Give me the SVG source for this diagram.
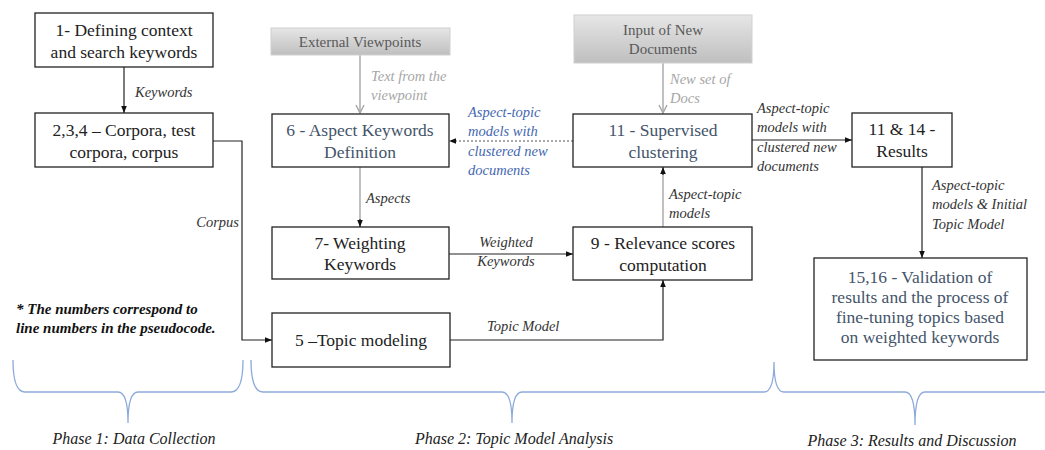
<svg xmlns="http://www.w3.org/2000/svg" width="1045" height="450" viewBox="0 0 1045 450" font-family="Liberation Serif, Tinos, Times New Roman, DejaVu Serif, serif">
<style>
.box{fill:#fff;stroke:#222;stroke-width:1.3}
.gbox{fill:url(#gg);stroke:#d0d0d0;stroke-width:1}
.t{font-size:17.5px;fill:#222;text-anchor:middle}
.ts{fill:#44546a}
.tg{font-size:15px;fill:#595959;text-anchor:middle}
.l{font-size:14.5px;font-style:italic;fill:#333}
.lg{fill:#a6a6a6}
.lb{fill:#4468b0}
.c{fill:none;stroke:#222;stroke-width:1.2}
.cg{fill:none;stroke:#a6a6a6;stroke-width:1.4}
.br{fill:none;stroke:#8eaadb;stroke-width:1.3}
.ph{font-size:16px;font-style:italic;fill:#222;text-anchor:middle}
.note{font-size:15px;font-style:italic;font-weight:bold;fill:#111}
</style>
<defs>
<linearGradient id="gg" x1="0" y1="0" x2="0" y2="1"><stop offset="0" stop-color="#e6e6e6"/><stop offset="1" stop-color="#bfbfbf"/></linearGradient>
<marker id="ah" viewBox="0 0 10 10" refX="10" refY="5" markerWidth="7" markerHeight="7" orient="auto" markerUnits="userSpaceOnUse"><path d="M0,1 L10,5 L0,9 Z" fill="#111"/></marker>
<marker id="ag" viewBox="0 0 10 10" refX="9" refY="5" markerWidth="10" markerHeight="10" orient="auto" markerUnits="userSpaceOnUse"><path d="M1,1 L9,5 L1,9" fill="none" stroke="#a6a6a6" stroke-width="1.4"/></marker>
</defs>

<g id="connectors">
<path class="c" d="M124,67 V113" marker-end="url(#ah)"/>
<text class="l" x="135" y="97">Keywords</text>
<path class="c" d="M213,141 H242 V340 H272" marker-end="url(#ah)"/>
<text class="l" x="239" y="227" text-anchor="end">Corpus</text>
<path class="cg" d="M360,55 V113" marker-end="url(#ag)"/>
<text class="l lg" x="371" y="81">Text from the</text>
<text class="l lg" x="371" y="100">viewpoint</text>
<path class="cg" d="M663,63 V113" marker-end="url(#ag)"/>
<text class="l lg" x="670" y="84">New set of</text>
<text class="l lg" x="670" y="103">Docs</text>
<path d="M573,141 H449" fill="none" stroke="#555" stroke-width="1" stroke-dasharray="2,2" marker-end="url(#ah)"/>
<text class="l lb" x="468" y="117">Aspect-topic</text>
<text class="l lb" x="468" y="136">models with</text>
<text class="l lb" x="468" y="156">clustered new</text>
<text class="l lb" x="468" y="175">documents</text>
<path class="c" d="M752,140 H852" marker-end="url(#ah)"/>
<text class="l" x="757" y="113">Aspect-topic</text>
<text class="l" x="757" y="132">models with</text>
<text class="l" x="757" y="152">clustered new</text>
<text class="l" x="757" y="171">documents</text>
<path class="c" d="M922,167 V258" marker-end="url(#ah)"/>
<text class="l" x="932" y="190">Aspect-topic</text>
<text class="l" x="932" y="209">models &amp; Initial</text>
<text class="l" x="932" y="229">Topic Model</text>
<path class="cg" d="M360,167 V220"/>
<path class="c" d="M360,219 V227" marker-end="url(#ah)"/>
<text class="l" x="366" y="203">Aspects</text>
<path class="c" d="M449,254 H573" marker-end="url(#ah)"/>
<text class="l" x="506" y="247" text-anchor="middle">Weighted</text>
<text class="l" x="506" y="266" text-anchor="middle">Keywords</text>
<path class="c" d="M450,340 H663 V280" marker-end="url(#ah)"/>
<text class="l" x="487" y="331">Topic Model</text>
<path class="cg" d="M663,227 V174"/>
<path class="c" d="M663,175 V167" marker-end="url(#ah)"/>
<text class="l" x="669" y="199">Aspect-topic</text>
<text class="l" x="669" y="218">models</text>
</g>

<g id="n1"><rect class="box" x="35" y="13" width="178" height="54"/>
<text class="t" x="124" y="36">1- Defining context</text><text class="t" x="124" y="58">and search keywords</text></g>
<g id="n2"><rect class="box" x="35" y="113" width="178" height="54"/>
<text class="t" x="124" y="136">2,3,4 – Corpora, test</text><text class="t" x="124" y="158">corpora, corpus</text></g>
<g id="ext"><rect class="gbox" x="271" y="28" width="179" height="27"/>
<text class="tg" x="360" y="47">External Viewpoints</text></g>
<g id="inp"><rect class="gbox" x="574" y="15" width="178" height="48"/>
<text class="tg" x="663" y="35">Input of New</text><text class="tg" x="663" y="54">Documents</text></g>
<g id="n6"><rect class="box" x="272" y="114" width="177" height="53"/>
<text class="t ts" x="360" y="136">6 - Aspect Keywords</text><text class="t ts" x="360" y="158">Definition</text></g>
<g id="n11"><rect class="box" x="573" y="114" width="179" height="53"/>
<text class="t ts" x="663" y="136">11 - Supervised</text><text class="t ts" x="663" y="158">clustering</text></g>
<g id="n1114"><rect class="box" x="852" y="113" width="100" height="54"/>
<text class="t" x="902" y="135">11 &amp; 14 -</text><text class="t" x="902" y="157">Results</text></g>
<g id="n7"><rect class="box" x="272" y="227" width="177" height="52"/>
<text class="t" x="360" y="249">7- Weighting</text><text class="t" x="360" y="270">Keywords</text></g>
<g id="n9"><rect class="box" x="573" y="227" width="179" height="53"/>
<text class="t" x="663" y="249">9 - Relevance scores</text><text class="t" x="663" y="271">computation</text></g>
<g id="n5"><rect class="box" x="272" y="313" width="178" height="54"/>
<text class="t" x="361" y="346">5 –Topic modeling</text></g>
<g id="n1516"><rect class="box" x="814" y="258" width="213" height="102"/>
<text class="t ts" x="920" y="283">15,16 - Validation of</text>
<text class="t ts" x="920" y="303">results and the process of</text>
<text class="t ts" x="920" y="323">fine-tuning topics based</text>
<text class="t ts" x="920" y="343">on weighted keywords</text></g>

<g id="note">
<text class="note" x="16" y="314">* The numbers correspond to</text>
<text class="note" x="16" y="333">line numbers in the pseudocode.</text>
</g>

<g id="phases">
<path class="br" d="M13,360 Q13,392 25,392 H118 Q128,392 128,423 Q128,392 138,392 H231 Q243,392 243,360"/>
<path class="br" d="M251,360 Q251,392 263,392 H502 Q512,392 512,423 Q512,392 522,392 H764 Q774,392 774,362 Q774,392 784,392 H905 Q915,392 915,425 Q915,392 925,392 H1045"/>
<text class="ph" x="134" y="444">Phase 1: Data Collection</text>
<text class="ph" x="514" y="444">Phase 2: Topic Model Analysis</text>
<text class="ph" x="912" y="446">Phase 3: Results and Discussion</text>
</g>
</svg>
